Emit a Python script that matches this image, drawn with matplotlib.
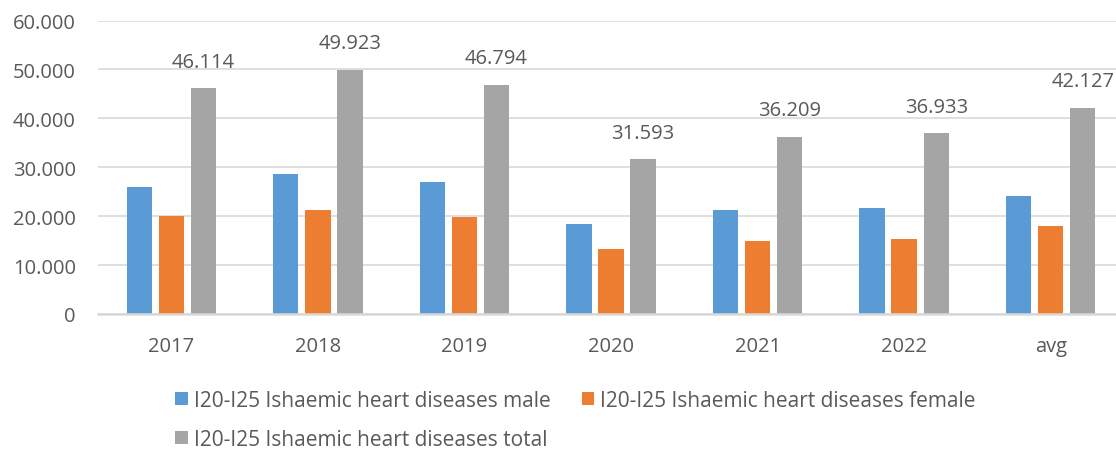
import numpy as np
import matplotlib.pyplot as plt
from matplotlib.ticker import FuncFormatter

plt.rcParams['font.family'] = ['Open Sans', 'DejaVu Sans']

categories = ['2017', '2018', '2019', '2020', '2021', '2022', 'avg']
male = [26000, 28600, 27000, 18300, 21200, 21600, 24200]
female = [20100, 21300, 19800, 13300, 15000, 15300, 17900]
total = [46114, 49923, 46794, 31593, 36209, 36933, 42127]

labels = ['I20-I25 Ishaemic heart diseases male',
          'I20-I25 Ishaemic heart diseases female',
          'I20-I25 Ishaemic heart diseases total']
colors = ['#5B9BD5', '#ED7D31', '#A5A5A5']
text_col = '#595959'

fig = plt.figure(figsize=(11.16, 4.52), dpi=100)
ax = fig.add_axes([98/1116, 1-315/452, 1026/1116, (315-21.5)/452])

x = np.arange(len(categories))
w = 0.173
pitch = 0.219
bars = []
for i, (vals, c) in enumerate(zip([male, female, total], colors)):
    b = ax.bar(x + (i-1)*pitch, vals, width=w, color=c, label=labels[i], zorder=3)
    bars.append(b)

for xi, v in zip(x, total):
    ax.annotate(f"{v/1000:.3f}", (xi + pitch, v), xytext=(0, 12), textcoords='offset points',
                ha='center', va='bottom', fontsize=14.5, color=text_col)

ax.set_xlim(-0.5, len(categories)-0.5)
ax.set_ylim(0, 60000)
ax.set_yticks(range(0, 60001, 10000))
ax.yaxis.set_major_formatter(FuncFormatter(lambda v, p: f"{int(v):,}".replace(',', '.')))
ax.set_xticks(x)
ax.set_xticklabels(categories)
ax.tick_params(axis='both', length=0, labelsize=14.5, labelcolor=text_col)
ax.tick_params(axis='y', pad=16)
ax.tick_params(axis='x', pad=16)
ax.grid(axis='y', color='#D9D9D9', linewidth=1.2, zorder=0)
for s in ['top', 'right', 'left']:
    ax.spines[s].set_visible(False)
ax.spines['bottom'].set_color('#D9D9D9')
ax.spines['bottom'].set_linewidth(1.8)
ax.spines['bottom'].set_zorder(4)

handles = [bars[0], bars[2], bars[1]]
fig.legend(handles, [labels[0], labels[2], labels[1]], ncol=2, loc='upper left',
           bbox_to_anchor=(175/1116, 1-391/452), frameon=False, fontsize=15,
           labelcolor=text_col, handlelength=0.6, handleheight=0.6, handletextpad=0.3,
           columnspacing=1.5, labelspacing=0.85, borderpad=0, borderaxespad=0)

fig.savefig('out.png', dpi=100)
